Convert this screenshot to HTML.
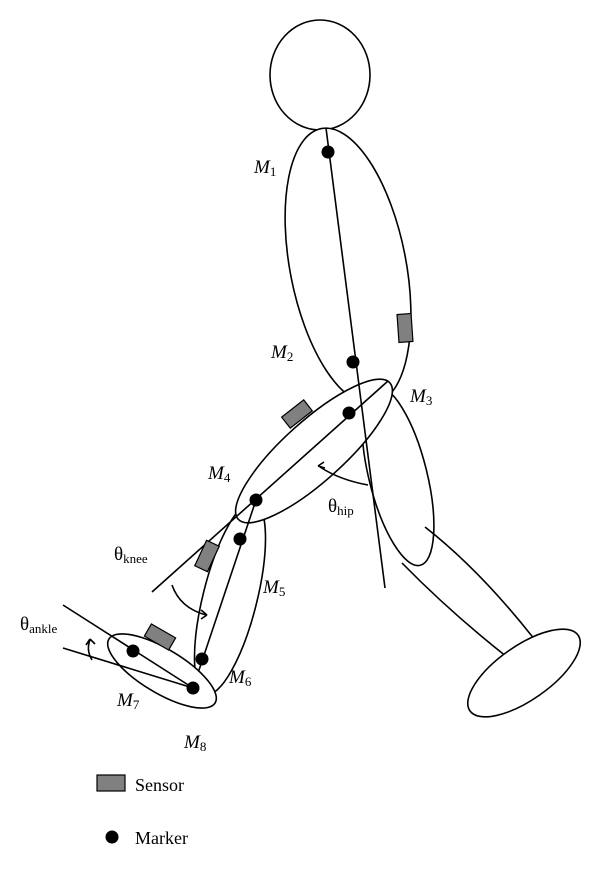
<!DOCTYPE html>
<html><head><style>
html,body{margin:0;padding:0;background:#fff;}
svg text{font-family:"Liberation Serif",serif;}
</style></head><body>
<svg width="600" height="873" viewBox="0 0 600 873" xmlns="http://www.w3.org/2000/svg">
<g fill="none" stroke="#000" stroke-width="1.6">
<ellipse cx="320" cy="75" rx="50" ry="55"/>
<ellipse cx="348" cy="266" rx="58" ry="140" transform="rotate(-11 348 266)" fill="#fff"/>
<ellipse cx="398" cy="476" rx="29" ry="92" transform="rotate(-14 398 476)" fill="#fff"/>
<path d="M425 527 Q480 570 535 640"/>
<path d="M402 563 Q450 612 507 657"/>
<ellipse cx="524" cy="673" rx="66" ry="27" transform="rotate(-35 524 673)" fill="#fff"/>
<ellipse cx="230" cy="598" rx="27" ry="99" transform="rotate(14 230 598)" fill="#fff"/>
<ellipse cx="314" cy="451" rx="102" ry="30" transform="rotate(-42 314 451)" fill="#fff"/>
<line x1="326" y1="128" x2="385" y2="588"/>
<line x1="388" y1="381" x2="152" y2="592"/>
<line x1="256" y1="500" x2="193" y2="688"/>
<ellipse cx="162" cy="671" rx="62" ry="22" transform="rotate(31 162 671)" fill="#fff"/>
<line x1="63" y1="605" x2="193" y2="688"/>
<line x1="63" y1="648" x2="193" y2="688"/>
<path d="M368 485 Q340 480 320 467"/>
<path d="M318 466 l6 -4 M318 466 l7 2"/>
<path d="M172 585 Q180 608 206 615"/>
<path d="M207 615 l-6 -5 M207 615 l-6 4"/>
<path d="M92 660 Q86 650 90 640"/>
<path d="M90 639 l-4 6 M90 639 l5 5"/>
</g>
<g fill="#808080" stroke="#000" stroke-width="1.2">
<rect x="398" y="314" width="14" height="28" transform="rotate(-4 405 328)"/>
<rect x="283" y="407" width="28" height="14" transform="rotate(-38 297 414)"/>
<rect x="200" y="542" width="14" height="28" transform="rotate(25 207 556)"/>
<rect x="146" y="630" width="28" height="14" transform="rotate(30 160 637)"/>
<rect x="97" y="775" width="28" height="16"/>
</g>
<g fill="#000">
<circle cx="328" cy="152" r="6.5"/>
<circle cx="353" cy="362" r="6.5"/>
<circle cx="349" cy="413" r="6.5"/>
<circle cx="256" cy="500" r="6.5"/>
<circle cx="240" cy="539" r="6.5"/>
<circle cx="202" cy="659" r="6.5"/>
<circle cx="133" cy="651" r="6.5"/>
<circle cx="193" cy="688" r="6.5"/>
<circle cx="112" cy="837" r="6.5"/>
</g>
<g font-size="19" fill="#000">
<text x="254" y="173"><tspan font-style="italic">M</tspan><tspan font-size="13" dy="3">1</tspan></text>
<text x="271" y="358"><tspan font-style="italic">M</tspan><tspan font-size="13" dy="3">2</tspan></text>
<text x="410" y="402"><tspan font-style="italic">M</tspan><tspan font-size="13" dy="3">3</tspan></text>
<text x="208" y="479"><tspan font-style="italic">M</tspan><tspan font-size="13" dy="3">4</tspan></text>
<text x="263" y="593"><tspan font-style="italic">M</tspan><tspan font-size="13" dy="3">5</tspan></text>
<text x="229" y="683"><tspan font-style="italic">M</tspan><tspan font-size="13" dy="3">6</tspan></text>
<text x="117" y="706"><tspan font-style="italic">M</tspan><tspan font-size="13" dy="3">7</tspan></text>
<text x="184" y="748"><tspan font-style="italic">M</tspan><tspan font-size="13" dy="3">8</tspan></text>
<text x="328" y="512">θ<tspan font-size="13" dy="3">hip</tspan></text>
<text x="114" y="560">θ<tspan font-size="13" dy="3">knee</tspan></text>
<text x="20" y="630">θ<tspan font-size="13" dy="3">ankle</tspan></text>
<text x="135" y="791" font-size="18">Sensor</text>
<text x="135" y="844" font-size="18">Marker</text>
</g>
</svg>
</body></html>
